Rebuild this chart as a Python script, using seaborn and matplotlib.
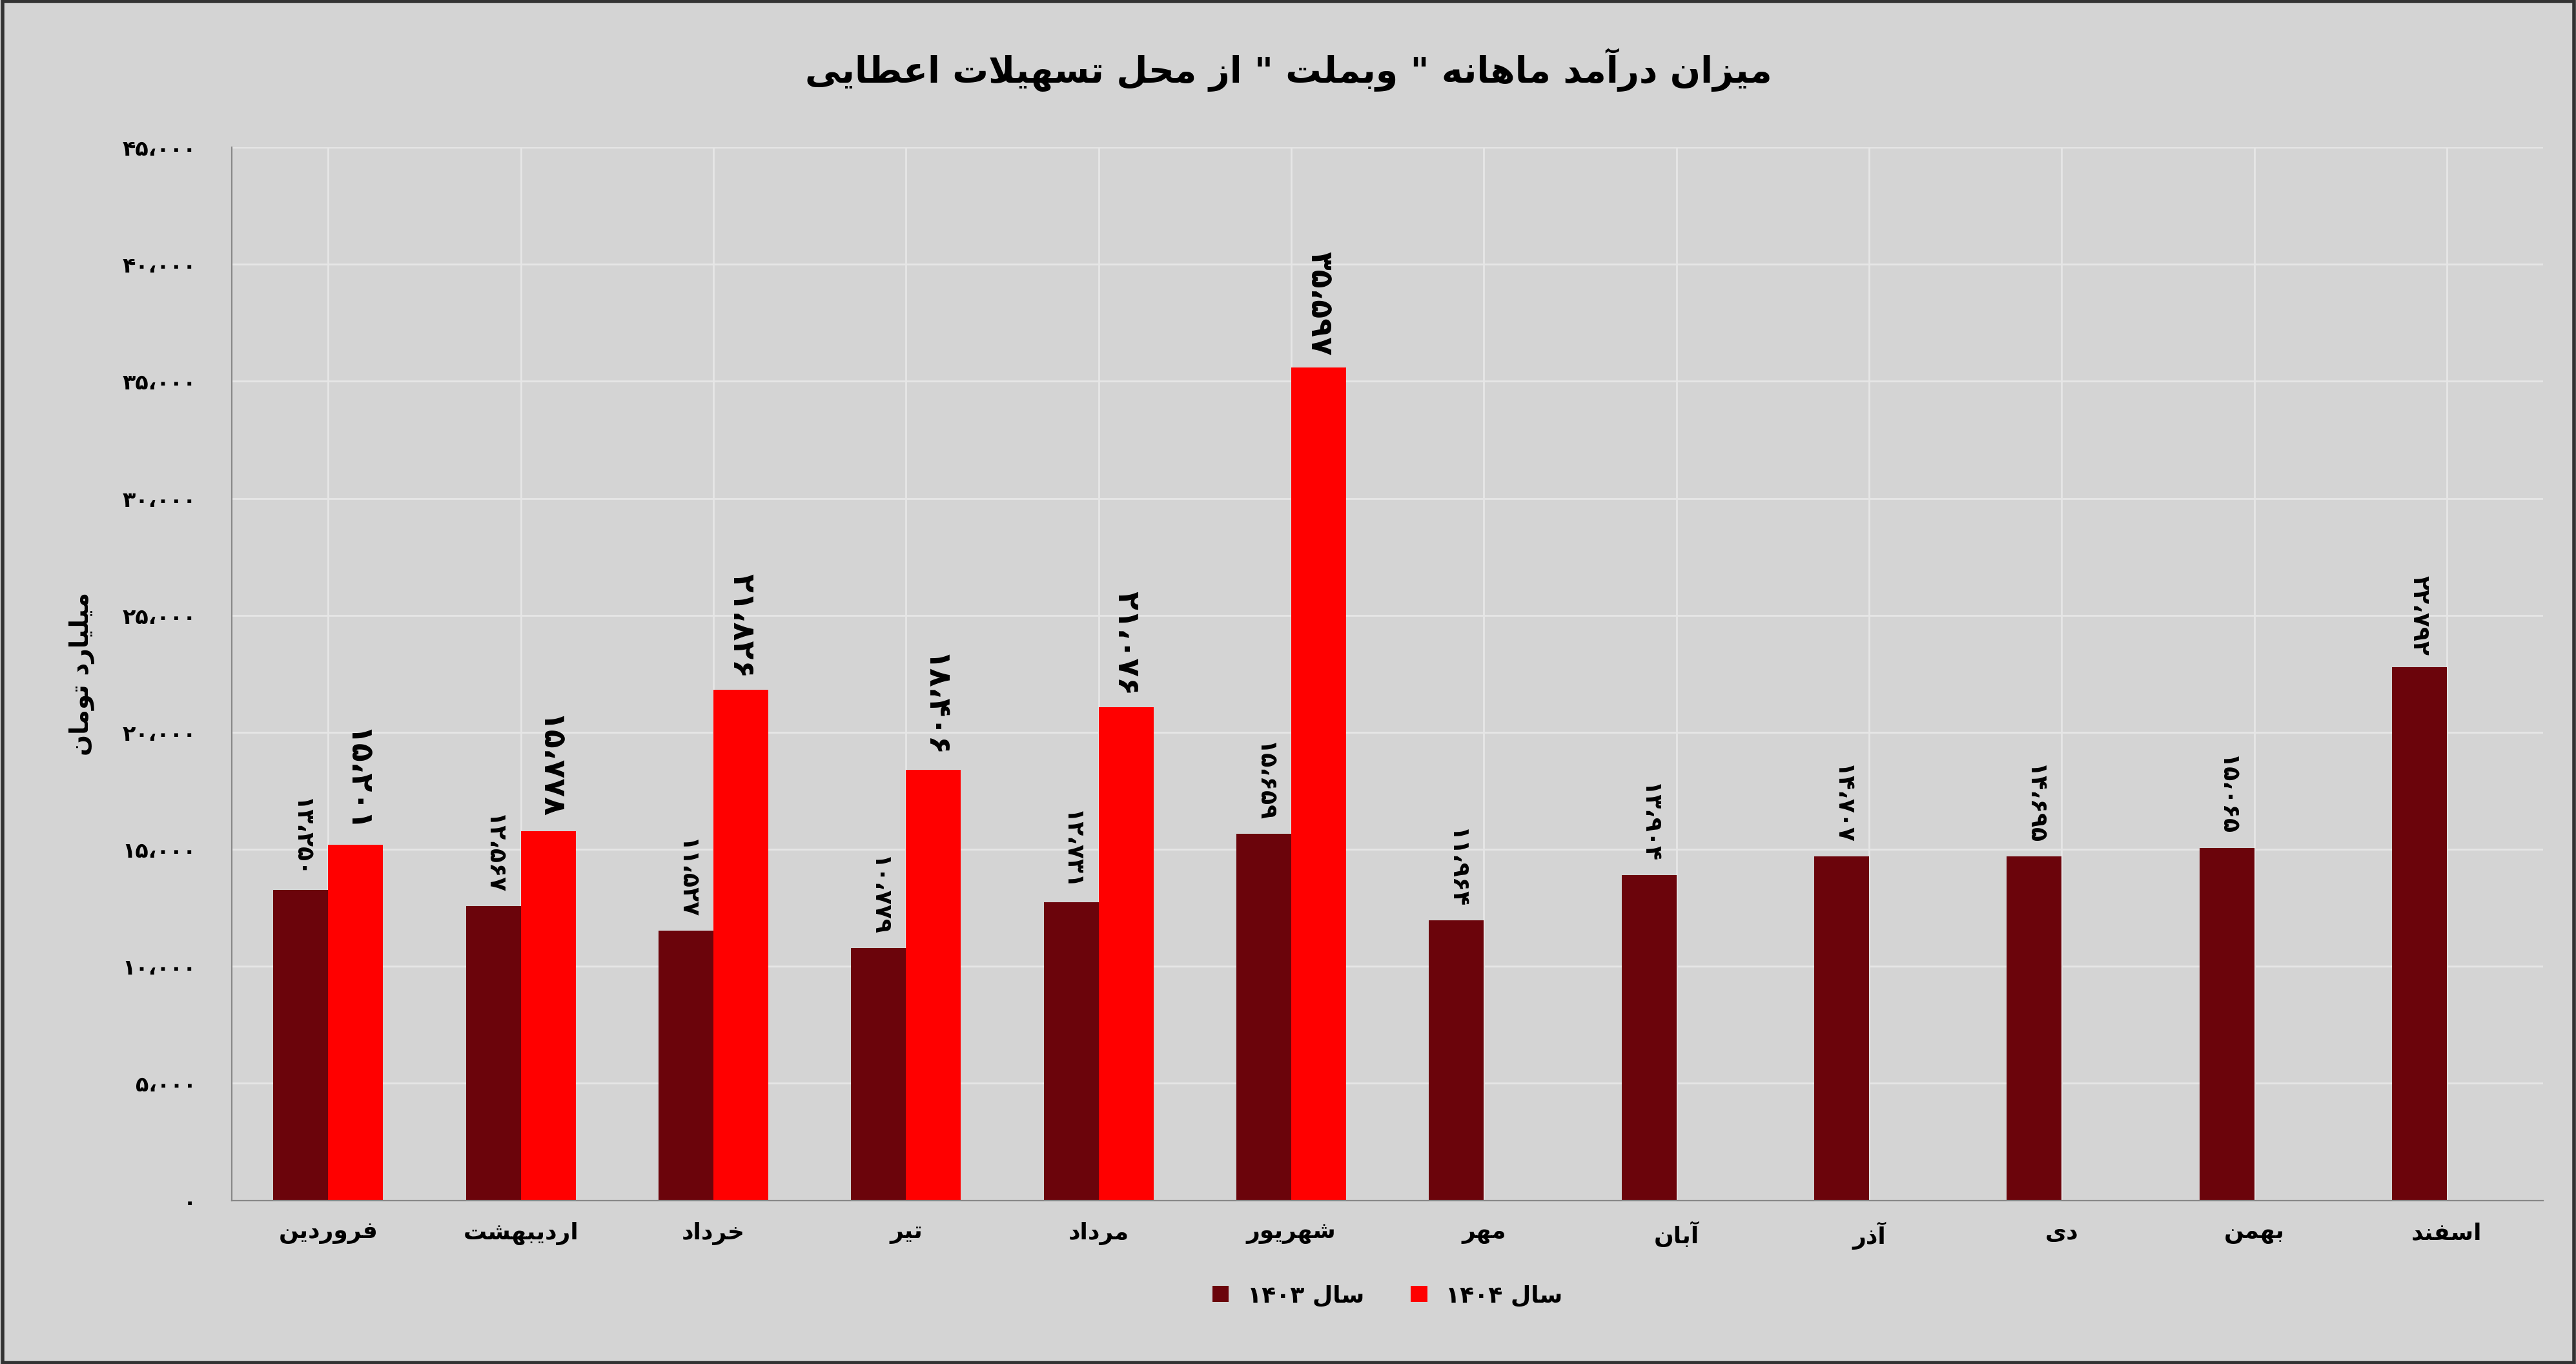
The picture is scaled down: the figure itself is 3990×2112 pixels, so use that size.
import matplotlib.pyplot as plt
import seaborn as sns
import pandas as pd
import numpy as np

months = ["فروردین", "اردیبهشت", "خرداد", "تیر", "مرداد", "شهریور",
          "مهر", "آبان", "آذر", "دی", "بهمن", "اسفند"]
y1403 = [13250, 12567, 11527, 10779, 12731, 15659, 11964, 13904, 14707, 14695, 15065, 22792]
y1404 = [15201, 15778, 21826, 18406, 21076, 35597, np.nan, np.nan, np.nan, np.nan, np.nan, np.nan]
yticks = [0, 5000, 10000, 15000, 20000, 25000, 30000, 35000, 40000, 45000]

# presentation forms: isolated, final, initial, medial (None = right-joining only)
FORMS = {
    'ا': (0xFE8D, 0xFE8E, None, None), 'آ': (0xFE81, 0xFE82, None, None),
    'ب': (0xFE8F, 0xFE90, 0xFE91, 0xFE92), 'ت': (0xFE95, 0xFE96, 0xFE97, 0xFE98),
    'ح': (0xFEA1, 0xFEA2, 0xFEA3, 0xFEA4), 'خ': (0xFEA5, 0xFEA6, 0xFEA7, 0xFEA8),
    'د': (0xFEA9, 0xFEAA, None, None), 'ذ': (0xFEAB, 0xFEAC, None, None),
    'ر': (0xFEAD, 0xFEAE, None, None), 'ز': (0xFEAF, 0xFEB0, None, None),
    'س': (0xFEB1, 0xFEB2, 0xFEB3, 0xFEB4), 'ش': (0xFEB5, 0xFEB6, 0xFEB7, 0xFEB8),
    'ط': (0xFEC1, 0xFEC2, 0xFEC3, 0xFEC4), 'ع': (0xFEC9, 0xFECA, 0xFECB, 0xFECC),
    'ف': (0xFED1, 0xFED2, 0xFED3, 0xFED4), 'ل': (0xFEDD, 0xFEDE, 0xFEDF, 0xFEE0),
    'م': (0xFEE1, 0xFEE2, 0xFEE3, 0xFEE4), 'ن': (0xFEE5, 0xFEE6, 0xFEE7, 0xFEE8),
    'ه': (0xFEE9, 0xFEEA, 0xFEEB, 0xFEEC), 'و': (0xFEED, 0xFEEE, None, None),
    'ی': (0xFBFC, 0xFBFD, 0xFBFE, 0xFBFF),
}


def fa(text):
    out = []
    i = 0
    n = len(text)
    while i < n:
        c = text[i]
        if c not in FORMS:
            out.append(c)
            i += 1
            continue
        prev = text[i - 1] if i > 0 else ''
        joins_prev = prev in FORMS and FORMS[prev][2] is not None
        if c == 'ل' and i + 1 < n and text[i + 1] == 'ا':
            out.append(chr(0xFEFC if joins_prev else 0xFEFB))
            i += 2
            continue
        nxt = text[i + 1] if i + 1 < n else ''
        joins_next = FORMS[c][2] is not None and nxt in FORMS
        f = FORMS[c]
        if joins_prev and joins_next:
            out.append(chr(f[3]))
        elif joins_prev:
            out.append(chr(f[1]))
        elif joins_next:
            out.append(chr(f[2]))
        else:
            out.append(chr(f[0]))
        i += 1
    return ''.join(out)[::-1]


def fa_num(v):
    s = f"{int(v):,}".replace(",", "،")
    return s.translate(str.maketrans("0123456789", "۰۱۲۳۴۵۶۷۸۹"))


plt.rcParams['font.family'] = ['DejaVu Sans']
bg = "#d4d4d4"
fig, ax = plt.subplots(figsize=(19.955, 10.56), dpi=200)
fig.patch.set_facecolor(bg)
ax.set_facecolor(bg)

labels = [fa(m) for m in months]
df = pd.DataFrame({
    "month": labels * 2,
    "value": y1403 + y1404,
    "year": ["1403"] * 12 + ["1404"] * 12,
})
sns.barplot(data=df, x="month", y="value", hue="year", order=labels,
            palette={"1403": "#6b040b", "1404": "#ff0000"}, width=0.57,
            saturation=1, ax=ax, legend=True)

for cont, big in zip(ax.containers, [False, True]):
    for bar in cont:
        h = bar.get_height()
        if np.isnan(h):
            continue
        ax.text(bar.get_x() + bar.get_width() / 2, h + 500, fa_num(h),
                rotation=-90, ha="center", va="bottom",
                fontsize=17 if big else 13, fontweight="bold")

ax.set_ylim(0, 45000)
ax.set_yticks(yticks)
ax.set_yticklabels([fa_num(t) for t in yticks], fontsize=12, fontweight="bold")
ax.tick_params(axis="x", labelsize=13, length=0, pad=12)
ax.tick_params(axis="y", length=0, pad=20)
for lab in ax.get_xticklabels():
    lab.set_fontweight("bold")
ax.set_xlabel("")
ax.set_ylabel(fa("میلیارد تومان"), fontsize=14, fontweight="bold", labelpad=15)
ax.grid(True, color="#e6e6e6", linewidth=1)
ax.set_axisbelow(True)
ax.set_xlim(-0.5, 11.5)
for s in ["top", "right"]:
    ax.spines[s].set_visible(False)
ax.spines["left"].set_color("#888888")
ax.spines["bottom"].set_color("#888888")

handles, _ = ax.get_legend_handles_labels()
ax.legend(handles, ["۱۴۰۳ " + fa("سال"), "۱۴۰۴ " + fa("سال")],
          loc="upper center", bbox_to_anchor=(0.5, -0.06), ncol=2,
          frameon=False, fontsize=13, handlelength=0.7, handleheight=0.7,
          prop={"weight": "bold", "size": 13})

fig.suptitle(fa('میزان درآمد ماهانه " وبملت " از محل تسهیلات اعطایی'),
             fontsize=20, fontweight="bold", y=0.965)
plt.subplots_adjust(left=0.09, right=0.987, top=0.892, bottom=0.12)
fig.add_artist(plt.Rectangle((0.001, 0.001), 0.998, 0.998, transform=fig.transFigure,
                             fill=False, edgecolor="#333333", linewidth=2))
plt.savefig("out.png", dpi=200, facecolor=bg)
